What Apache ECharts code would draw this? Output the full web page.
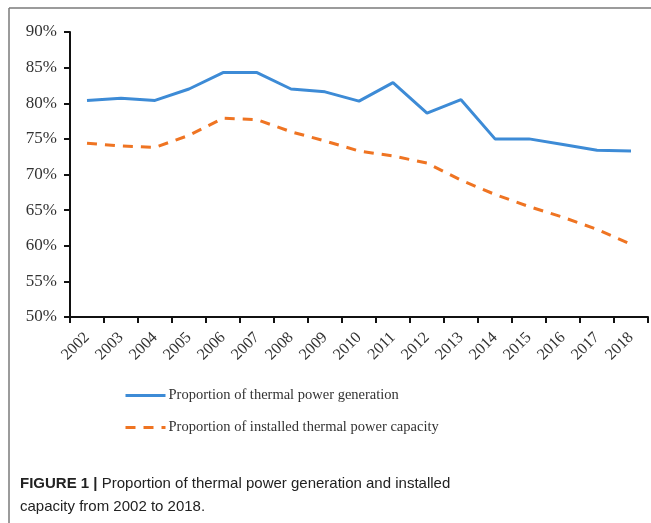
<!DOCTYPE html>
<html>
<head>
<meta charset="utf-8">
<script src="https://cdn.jsdelivr.net/npm/echarts@6/dist/echarts.min.js"></script>
<style>
  html, body { margin: 0; padding: 0; background: #fff; }
  #chart { width: 651px; height: 523px; }
</style>
</head>
<body>
<div id="chart"></div>
<script>
// 年份
const years = ['2002', '2003', '2004', '2005', '2006', '2007', '2008', '2009', '2010',
  '2011', '2012', '2013', '2014', '2015', '2016', '2017', '2018']
// 火电发电量占比 (%)
const generationShare = [80.4, 80.7, 80.4, 82.0, 84.3, 84.3, 82.0, 81.6, 80.3,
  82.9, 78.6, 80.5, 75.0, 75.0, 74.2, 73.4, 73.3]
// 火电装机容量占比 (%)
const capacityShare = [74.4, 74.0, 73.8, 75.5, 77.9, 77.7, 76.0, 74.7, 73.3,
  72.6, 71.6, 69.2, 67.2, 65.5, 64.0, 62.3, 60.2]
const seriesNames = ['Proportion of thermal power generation', 'Proportion of installed thermal power capacity']

const serif = '"Liberation Serif", "Times New Roman", serif'
const sans = '"Liberation Sans", Arial, sans-serif'

const chart = echarts.init(document.getElementById('chart'))
chart.setOption({
  animation: false,
  title: {
    left: 20,
    top: 472,
    padding: 0,
    text: '{b|FIGURE 1 |} Proportion of thermal power generation and installed\ncapacity from 2002 to 2018.',
    textStyle: {
      fontFamily: sans,
      fontSize: 15,
      fontWeight: 'normal',
      color: '#222',
      lineHeight: 23,
      rich: {
        b: {
          fontFamily: sans,
          fontSize: 15,
          fontWeight: 'bold',
          color: '#222',
          lineHeight: 23
        }
      }
    }
  },
  // 外框（左、上）
  graphic: [
    { type: 'line', shape: { x1: 9, y1: 8, x2: 651, y2: 8 }, style: { stroke: '#7a7a7a', lineWidth: 1.5 } },
    { type: 'line', shape: { x1: 9, y1: 8, x2: 9, y2: 523 }, style: { stroke: '#7a7a7a', lineWidth: 1.5 } }
  ],
  legend: {
    orient: 'vertical',
    left: 124,
    top: 388,
    padding: 0,
    itemWidth: 40,
    itemHeight: 14,
    itemGap: 17,
    data: seriesNames,
    itemStyle: { opacity: 0 },
    lineStyle: { width: 3 },
    textStyle: {
      fontFamily: serif,
      fontSize: 14.5,
      color: '#333',
      padding: [0, 0, 0, -2]
    }
  },
  grid: {
    left: 70,
    right: 3,
    top: 32,
    bottom: 206
  },
  xAxis: {
    type: 'category',
    data: years,
    boundaryGap: true,
    axisLine: { lineStyle: { color: '#111', width: 2 } },
    axisTick: { show: true, length: 6, lineStyle: { color: '#111', width: 2 } },
    axisLabel: {
      rotate: 45,
      margin: 18,
      fontFamily: serif,
      fontSize: 16,
      color: '#333',
      interval: 0
    }
  },
  yAxis: {
    type: 'value',
    min: 50,
    max: 90,
    interval: 5,
    axisLine: { show: true, lineStyle: { color: '#111', width: 2 } },
    axisTick: { show: true, length: 6, lineStyle: { color: '#111', width: 2 } },
    splitLine: { show: false },
    axisLabel: {
      formatter: '{value}%',
      margin: 13,
      fontFamily: serif,
      fontSize: 17,
      color: '#333'
    }
  },
  series: [
    {
      name: seriesNames[0],
      type: 'line',
      data: generationShare,
      symbol: 'none',
      itemStyle: { color: '#3d8bd6' },
      lineStyle: { color: '#3d8bd6', width: 3 }
    },
    {
      name: seriesNames[1],
      type: 'line',
      data: capacityShare,
      symbol: 'none',
      itemStyle: { color: '#ef7422' },
      lineStyle: { color: '#ef7422', width: 3, type: [10, 8] }
    }
  ]
})
</script>
</body>
</html>
